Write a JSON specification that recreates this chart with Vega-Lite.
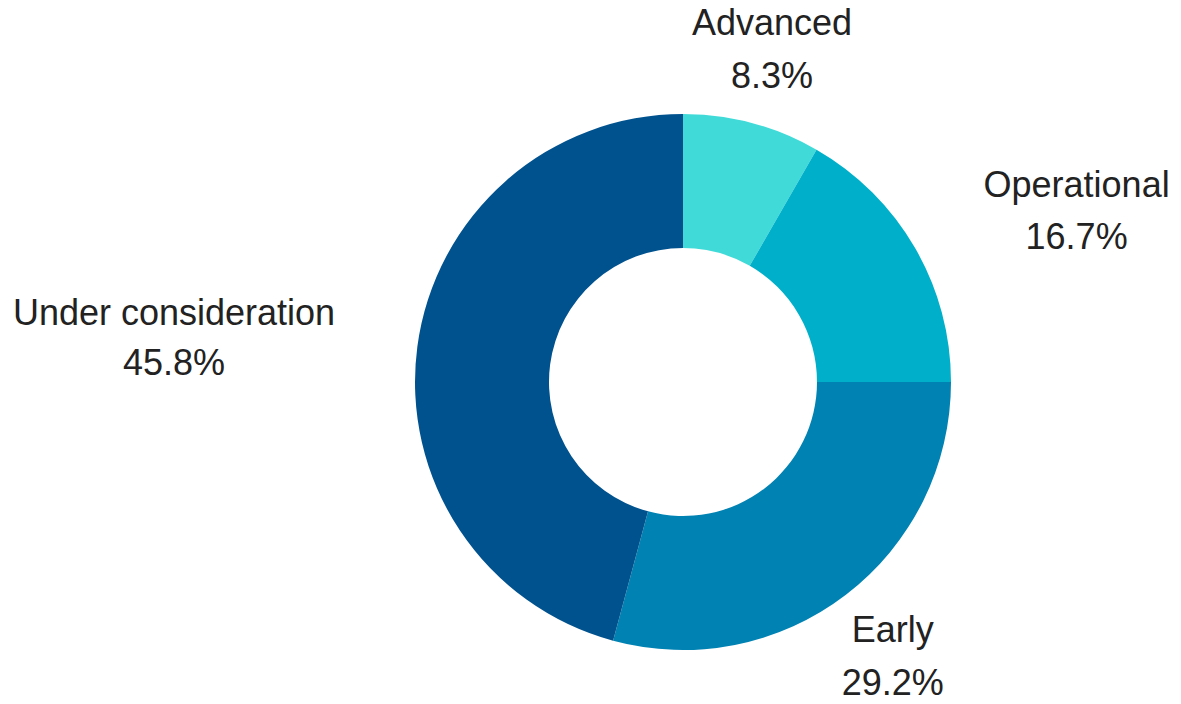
{
  "$schema": "https://vega.github.io/schema/vega-lite/v6.json",
  "width": 996,
  "height": 644,
  "autosize": "none",
  "padding": {"left": 185, "top": 60, "right": 0, "bottom": 0},
  "background": "white",
  "config": {"view": {"stroke": null}},
  "data": {
    "values": [
      {"name": "Advanced", "pct": 8.3, "label": "8.3%", "order": 1},
      {"name": "Operational", "pct": 16.7, "label": "16.7%", "order": 2},
      {"name": "Early", "pct": 29.2, "label": "29.2%", "order": 3},
      {"name": "Under consideration", "pct": 45.8, "label": "45.8%", "order": 4}
    ]
  },
  "transform": [
    {"stack": "pct", "groupby": [], "sort": [{"field": "order", "order": "ascending"}], "as": ["v0", "v1"]},
    {"calculate": "(datum.v0 + datum.v1) / 2", "as": "mid"},
    {"calculate": "[datum.name, datum.label]", "as": "txt"}
  ],
  "layer": [
    {
      "mark": {"type": "arc", "innerRadius": 134, "outerRadius": 268, "stroke": null},
      "encoding": {
        "theta": {"field": "v0", "type": "quantitative", "scale": {"domain": [0, 100]}},
        "theta2": {"field": "v1"},
        "color": {
          "field": "name",
          "type": "nominal",
          "scale": {
            "domain": ["Advanced", "Operational", "Early", "Under consideration"],
            "range": ["#40DBD8", "#00B0CA", "#0082B3", "#00528F"]
          },
          "legend": null
        }
      }
    },
    {
      "transform": [{"filter": "datum.name == 'Advanced' || datum.name == 'Early'"}],
      "mark": {"type": "text", "radius": 345, "dy": -25, "font": "Liberation Sans", "fontSize": 36, "lineHeight": 53, "color": "#222222", "align": "center", "baseline": "middle"},
      "encoding": {
        "theta": {"field": "mid", "type": "quantitative", "scale": {"domain": [0, 100]}},
        "text": {"field": "txt"}
      }
    },
    {
      "transform": [{"filter": "datum.name == 'Operational'"}],
      "mark": {"type": "text", "radius": 345, "dx": 95, "dy": -23, "font": "Liberation Sans", "fontSize": 36, "lineHeight": 52, "color": "#222222", "align": "center", "baseline": "middle"},
      "encoding": {
        "theta": {"field": "mid", "type": "quantitative", "scale": {"domain": [0, 100]}},
        "text": {"field": "txt"}
      }
    },
    {
      "transform": [{"filter": "datum.name == 'Under consideration'"}],
      "mark": {"type": "text", "radius": 345, "dx": -167, "dy": -23, "font": "Liberation Sans", "fontSize": 36, "lineHeight": 50, "color": "#222222", "align": "center", "baseline": "middle"},
      "encoding": {
        "theta": {"field": "mid", "type": "quantitative", "scale": {"domain": [0, 100]}},
        "text": {"field": "txt"}
      }
    }
  ]
}
